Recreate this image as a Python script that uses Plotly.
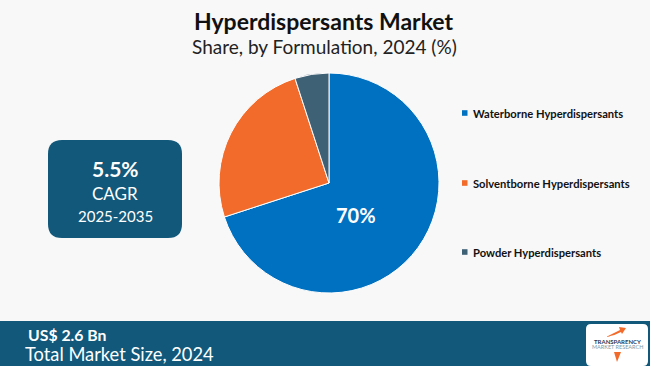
import plotly.graph_objects as go

categories = ["Waterborne Hyperdispersants", "Solventborne Hyperdispersants", "Powder Hyperdispersants"]
shares = [70, 25, 5]
colors = ["#0070C0", "#F26B2A", "#3F6176"]

title = "Hyperdispersants Market"
subtitle = "Share, by Formulation, 2024 (%)"
cagr_value = "5.5%"
cagr_label = "CAGR"
cagr_period = "2025-2035"
market_value = "US$ 2.6 Bn"
market_label = "Total Market Size, 2024"

W, H = 650, 366
BG = "#f8f8f8"
TEAL = "#11587A"

fig = go.Figure()
fig.add_trace(go.Pie(
    labels=categories, values=shares, sort=False, direction="clockwise", rotation=0,
    marker=dict(colors=colors, line=dict(color="white", width=1)),
    textinfo="none",
    domain=dict(x=[219/W, 439/W], y=[1-293/H, 1-73/H]),
    showlegend=False, hoverinfo="label+percent",
))

shapes = []
annotations = []

def px(x): return x / W
def py(y): return 1 - y / H

def ann(x, y, text, size, color="white", xanchor="center", family="Lato"):
    annotations.append(dict(x=px(x), y=py(y), xref="paper", yref="paper", text=text,
                            xanchor=xanchor, yanchor="middle", showarrow=False,
                            font=dict(family=family, size=size, color=color)))

# pie label
ann(356, 215, "<b>%d%%</b>" % shares[0], 20)

# title
ann(324, 21, "<b>%s</b>" % title, 23, "#111111")
ann(324, 46, subtitle, 19, "#222222")

# legend
leg_y = [113, 183, 252]
for cat, col, y in zip(categories, colors, leg_y):
    shapes.append(dict(type="rect", xref="paper", yref="paper", x0=px(462), x1=px(467.5),
                       y0=py(y+2.8), y1=py(y-2.8), fillcolor=col, line=dict(width=0)))
    ann(471, y, "<b>%s</b>" % cat, 11.2, "#111111", xanchor="left")

# CAGR box
x0, x1, y0, y1, r = 48, 182, 140, 238, 14
path = (f"M {px(x0+r)},{py(y0)} L {px(x1-r)},{py(y0)} Q {px(x1)},{py(y0)} {px(x1)},{py(y0+r)} "
        f"L {px(x1)},{py(y1-r)} Q {px(x1)},{py(y1)} {px(x1-r)},{py(y1)} "
        f"L {px(x0+r)},{py(y1)} Q {px(x0)},{py(y1)} {px(x0)},{py(y1-r)} "
        f"L {px(x0)},{py(y0+r)} Q {px(x0)},{py(y0)} {px(x0+r)},{py(y0)} Z")
shapes.append(dict(type="path", xref="paper", yref="paper", path=path, fillcolor=TEAL, line=dict(width=0)))
ann(115, 168, "<b>%s</b>" % cagr_value, 21)
ann(115, 193, cagr_label, 17)
ann(115, 216, cagr_period, 15)

# bottom band
shapes.append(dict(type="rect", xref="paper", yref="paper", x0=0, x1=1, y0=0, y1=py(321),
                   fillcolor=TEAL, line=dict(width=0)))
ann(26, 334, "<b>%s</b>" % market_value, 15.8, xanchor="left")
ann(23, 354, market_label, 18.3, xanchor="left")

# logo
lx0, lx1, ly0, ly1, lr = 586, 648, 324, 366, 5
lpath = (f"M {px(lx0+lr)},{py(ly0)} L {px(lx1-lr)},{py(ly0)} Q {px(lx1)},{py(ly0)} {px(lx1)},{py(ly0+lr)} "
         f"L {px(lx1)},{py(ly1-lr)} Q {px(lx1)},{py(ly1)} {px(lx1-lr)},{py(ly1)} "
         f"L {px(lx0+lr)},{py(ly1)} Q {px(lx0)},{py(ly1)} {px(lx0)},{py(ly1-lr)} "
         f"L {px(lx0)},{py(ly0+lr)} Q {px(lx0)},{py(ly0)} {px(lx0+lr)},{py(ly0)} Z")
shapes.append(dict(type="path", xref="paper", yref="paper", path=lpath, fillcolor="white", line=dict(width=0)))
shapes.append(dict(type="path", xref="paper", yref="paper",
                   path=f"M {px(606)},{py(337)} Q {px(614)},{py(333)} {px(620)},{py(330)} L {px(619)},{py(327)} L {px(626)},{py(328)} L {px(622)},{py(334)} L {px(621)},{py(332)} Q {px(614)},{py(336)} {px(606)},{py(337)} Z",
                   fillcolor="#F26B2A", line=dict(width=0)))
shapes.append(dict(type="path", xref="paper", yref="paper",
                   path=f"M {px(614)},{py(352)} L {px(621)},{py(352)} L {px(617)},{py(362)} Z",
                   fillcolor="#F26B2A", line=dict(width=0)))
ann(617, 341, "<b>TRANSPARENCY</b>", 6, "#2b3a55")
ann(617, 347, "MARKET RESEARCH", 5.5, "#7a9aa8")

fig.update_layout(
    width=W, height=H, margin=dict(l=0, r=0, t=0, b=0),
    paper_bgcolor=BG, plot_bgcolor=BG,
    shapes=shapes, annotations=annotations,
)

fig.write_html("out.html", config={"displayModeBar": False},
               post_script="document.body.style.margin='0';")
